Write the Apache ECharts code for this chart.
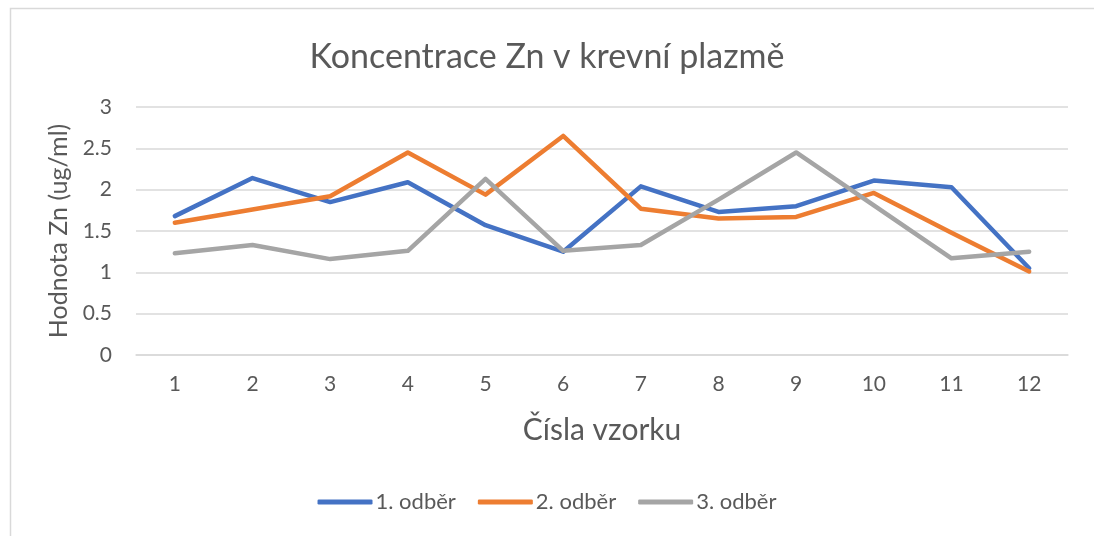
<!DOCTYPE html>
<html>
<head>
<meta charset="utf-8">
<script src="https://cdn.jsdelivr.net/npm/echarts@6/dist/echarts.min.js"></script>
<style>
  html, body { margin: 0; padding: 0; background: #fff; }
  #chart { width: 1094px; height: 536px; }
</style>
</head>
<body>
<div id="chart"></div>
<script>
// data
const samples = ['1', '2', '3', '4', '5', '6', '7', '8', '9', '10', '11', '12']
const odber1 = [1.68, 2.14, 1.85, 2.09, 1.57, 1.25, 2.04, 1.73, 1.80, 2.11, 2.03, 1.05]
const odber2 = [1.60, 1.76, 1.92, 2.45, 1.94, 2.65, 1.77, 1.65, 1.67, 1.96, 1.48, 1.01]
const odber3 = [1.23, 1.33, 1.16, 1.26, 2.13, 1.26, 1.33, 1.88, 2.45, 1.81, 1.17, 1.25]
const seriesNames = ['1. odběr', '2. odběr', '3. odběr']
const colors = ['#4472C4', '#ED7D31', '#A5A5A5']

const font = 'Lato'
const textColor = '#595959'

let chart = echarts.init(document.getElementById('chart'))

const makeLine = (name, data, color) => {
    return {
        name: name,
        type: 'line',
        data: data,
        symbol: 'none',
        lineStyle: { width: 4.5, color: color, cap: 'round', join: 'round' },
        itemStyle: { color: color }
    }
}

let option = {
    animation: false,
    textStyle: { fontFamily: font },
    graphic: [
        {
            type: 'rect',
            shape: { x: 10.5, y: 8.5, width: 1200, height: 600 },
            style: { fill: 'none', stroke: '#D9D9D9', lineWidth: 1.5 }
        }
    ],
    title: {
        text: 'Koncentrace Zn v krevní plazmě',
        left: 'center',
        top: 35,
        textStyle: { fontFamily: font, fontSize: 34, fontWeight: 'normal', color: textColor }
    },
    legend: {
        bottom: 18,
        left: 'center',
        itemWidth: 55,
        itemHeight: 5,
        itemGap: 22,
        icon: 'roundRect',
        textStyle: { fontFamily: font, fontSize: 22, color: textColor, padding: [0, 0, 0, -2] },
        data: seriesNames
    },
    grid: { left: 136, right: 26, top: 107, bottom: 181, containLabel: false },
    xAxis: {
        type: 'category',
        data: samples,
        boundaryGap: true,
        name: 'Čísla vzorku',
        nameLocation: 'middle',
        nameGap: 60,
        nameTextStyle: { fontFamily: font, fontSize: 30, color: textColor },
        axisLine: { show: true, lineStyle: { color: '#D9D9D9', width: 1.5 } },
        axisTick: { show: false },
        axisLabel: { fontFamily: font, fontSize: 21, color: textColor, margin: 19 }
    },
    yAxis: {
        type: 'value',
        min: 0,
        max: 3,
        interval: 0.5,
        name: 'Hodnota Zn (ug/ml)',
        nameLocation: 'middle',
        nameGap: 62,
        nameTextStyle: { fontFamily: font, fontSize: 25, color: textColor },
        axisLine: { show: false },
        axisTick: { show: false },
        axisLabel: { fontFamily: font, fontSize: 21, color: textColor, margin: 24 },
        splitLine: { lineStyle: { color: '#D9D9D9', width: 1.5 } }
    },
    series: [
        makeLine(seriesNames[0], odber1, colors[0]),
        makeLine(seriesNames[1], odber2, colors[1]),
        makeLine(seriesNames[2], odber3, colors[2])
    ]
}

chart.setOption(option)
</script>
</body>
</html>
